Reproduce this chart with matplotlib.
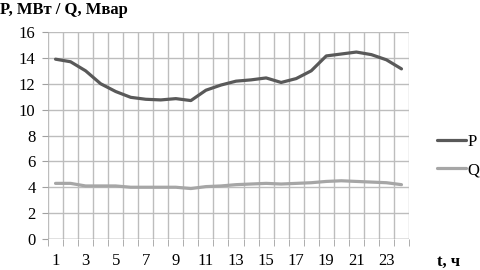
import numpy as np
import matplotlib.pyplot as plt

hours = list(range(1, 25))
p_vals = [13.9, 13.7, 13.0, 12.0, 11.4, 10.95, 10.8, 10.75, 10.85, 10.7, 11.5, 11.9,
          12.2, 12.3, 12.45, 12.1, 12.4, 13.0, 14.15, 14.3, 14.45, 14.25, 13.85, 13.15]
q_vals = [4.3, 4.3, 4.1, 4.1, 4.1, 4.0, 4.0, 4.0, 4.0, 3.9, 4.05, 4.1,
          4.2, 4.25, 4.3, 4.25, 4.3, 4.35, 4.45, 4.5, 4.45, 4.4, 4.35, 4.2]
x_labels = [str(h) for h in hours[::2]]

plt.rcParams['font.family'] = ['Liberation Serif', 'DejaVu Serif']

fig = plt.figure(figsize=(4.8, 2.7), dpi=100)
ax = fig.add_axes([48/480, 1 - 239/270, 361/480, 207/270])

grid_c = '#bdbdbd'
ax.plot(hours, p_vals, color='#595959', lw=2.3, label='P', solid_capstyle='round')
ax.plot(hours, q_vals, color='#a6a6a6', lw=2.3, label='Q', solid_capstyle='round')

ax.set_xlim(0.5, 24.5)
ax.set_ylim(0, 16)
ax.set_yticks(np.arange(0, 17, 2))
ax.set_xticks(hours[::2])
ax.set_xticklabels(x_labels)
ax.set_xticks(np.arange(0.5, 25, 1), minor=True)

for s in ax.spines.values():
    s.set_visible(False)
ax.grid(True, which='major', axis='y', color=grid_c, lw=1)
ax.grid(True, which='minor', axis='x', color=grid_c, lw=1)
ax.axhline(0, color='#a0a0a0', lw=1)
ax.tick_params(axis='x', which='major', length=0, pad=10, labelsize=12)
ax.tick_params(axis='x', which='minor', length=5, color='#a0a0a0', direction='out')
ax.tick_params(axis='y', length=4, color='#a0a0a0', pad=5, labelsize=12)
ax.set_axisbelow(True)

leg = ax.legend(loc='center left', bbox_to_anchor=(437/480, 1 - 156/270),
                bbox_transform=fig.transFigure, frameon=False, borderpad=0,
                borderaxespad=0, fontsize=12, handlelength=1.75,
                handletextpad=0.1, labelspacing=0.75)

fig.text(0.0, 1 - 10/270, 'P, МВт / Q, Мвар', fontsize=12, fontweight='bold', va='center')
fig.text(437/480, 1 - 262/270, 't, ч', fontsize=12, fontweight='bold', va='center')

fig.savefig('out.png', dpi=100)
